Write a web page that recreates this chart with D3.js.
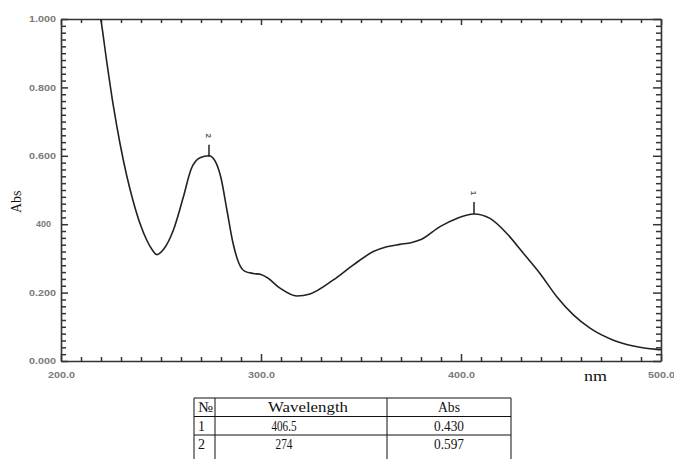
<!DOCTYPE html>
<html>
<head>
<meta charset="utf-8">
<script src="https://cdn.jsdelivr.net/npm/d3@7/dist/d3.min.js"></script>
<style>
html,body{margin:0;padding:0;background:#fff;}
svg{display:block;}
.serif{font-family:"Liberation Serif","Times New Roman",serif;}
</style>
</head>
<body>
<svg id="chart" width="674" height="459"></svg>
<script>
// ---- data ----
const wavelength = [218, 219.9, 222.9, 226.2, 229.5, 232.9, 236.2, 239.5, 242.9, 245.5, 247.9, 251.5, 256.2, 261.2, 265, 269.5, 274,
  277, 280, 283, 286, 289, 292, 296.2, 300, 303, 309.5, 317.9, 324.5, 336.2, 346.2, 356.2, 362.9, 369.5,
  375, 380, 389.5, 397.9, 406.5, 414.5, 422.9, 431.2, 439.5, 447.9, 456.2, 464.5, 476.2, 486.2, 497.9, 500];
const absorbance = [1.06, 1.000, 0.874, 0.745, 0.636, 0.541, 0.465, 0.402, 0.353, 0.326, 0.311, 0.328, 0.383, 0.480, 0.560, 0.594, 0.600,
  0.585, 0.535, 0.440, 0.345, 0.285, 0.262, 0.256, 0.253, 0.244, 0.213, 0.190, 0.196, 0.237, 0.281, 0.320, 0.334, 0.341,
  0.346, 0.355, 0.393, 0.417, 0.430, 0.417, 0.373, 0.315, 0.256, 0.188, 0.135, 0.096, 0.061, 0.044, 0.034, 0.033];
const xTicks = [200, 300, 400, 500];
const xTickLabels = ["200.0", "300.0", "400.0", "500.0"];
const yTicks = [0, 0.2, 0.4, 0.6, 0.8, 1.0];
const yTickLabels = ["0.000", "0.200", "400", "0.600", "0.800", "1.000"];
const peakNo = ["1", "2"];
const peakWl = [406.5, 274];
const peakAbs = [0.430, 0.597];
const tableHeader = ["№", "Wavelength", "Abs"];
const tableRows = [["1", "406.5", "0.430"], ["2", "274", "0.597"]];

// ---- layout ----
const svg = d3.select("#chart");
const L = 61, R = 661, T = 19, B = 361;
const x = d3.scaleLinear().domain([200, 500]).range([L, R]);
const y = d3.scaleLinear().domain([0, 1]).range([B, T]);
const axisColor = "#333";
const labelColor = "#7a7a7a";

svg.append("defs").append("clipPath").attr("id", "clip")
  .append("rect").attr("x", L).attr("y", T).attr("width", R - L).attr("height", B - T);

const xMinor = d3.range(200, 501, 10);
const yMinor = d3.range(0, 51).map(i => i * 0.02);
const isMajorX = v => Math.abs(v % 100) < 1e-6;
const isMajorY = v => Math.abs(Math.round(v * 1000) % 200) < 1e-6;

const gB = svg.append("g").attr("transform", `translate(0,${B})`)
  .call(d3.axisBottom(x).tickValues(xMinor).tickSizeInner(0).tickSizeOuter(0).tickFormat(""));
gB.selectAll(".tick line").attr("y2", d => isMajorX(d) ? -7 : -4);
const gT = svg.append("g").attr("transform", `translate(0,${T})`)
  .call(d3.axisTop(x).tickValues(xMinor).tickSizeInner(0).tickSizeOuter(0).tickFormat(""));
gT.selectAll(".tick line").attr("y2", d => isMajorX(d) ? 6 : 4);
const gL = svg.append("g").attr("transform", `translate(${L},0)`)
  .call(d3.axisLeft(y).tickValues(yMinor).tickSizeInner(0).tickSizeOuter(0).tickFormat(""));
gL.selectAll(".tick line").attr("x2", d => isMajorY(d) ? 7 : 5);
const gR = svg.append("g").attr("transform", `translate(${R},0)`)
  .call(d3.axisRight(y).tickValues(yMinor).tickSizeInner(0).tickSizeOuter(0).tickFormat(""));
gR.selectAll(".tick line").attr("x2", d => isMajorY(d) ? -8 : -5);

[gB, gT, gL, gR].forEach(g => {
  g.selectAll(".domain").attr("stroke", axisColor).attr("stroke-width", 1.6);
  g.selectAll(".tick line").attr("stroke", axisColor).attr("stroke-width", 1.5);
});

svg.append("g").selectAll("text").data(yTicks).join("text")
  .attr("x", (d, i) => yTickLabels[i] === "400" ? 51 : 56)
  .attr("y", d => y(d))
  .attr("dy", "0.35em")
  .attr("text-anchor", "end")
  .attr("font-family", "Liberation Sans, Arial, sans-serif")
  .attr("font-size", 9)
  .attr("font-weight", "bold")
  .attr("fill", labelColor)
  .attr("textLength", (d, i) => yTickLabels[i].length === 3 ? 15 : 27)
  .attr("lengthAdjust", "spacingAndGlyphs")
  .text((d, i) => yTickLabels[i]);

svg.append("g").selectAll("text").data(xTicks).join("text")
  .attr("x", d => x(d) - 13)
  .attr("y", 375)
  .attr("dy", "0.35em")
  .attr("font-family", "Liberation Sans, Arial, sans-serif")
  .attr("font-size", 9)
  .attr("font-weight", "bold")
  .attr("fill", labelColor)
  .attr("textLength", 27)
  .attr("lengthAdjust", "spacingAndGlyphs")
  .text((d, i) => xTickLabels[i]);

svg.append("text").attr("class", "serif")
  .attr("x", 584).attr("y", 381)
  .attr("font-size", 14)
  .attr("fill", "#111")
  .attr("textLength", 23).attr("lengthAdjust", "spacingAndGlyphs")
  .text("nm");
svg.append("text").attr("class", "serif")
  .attr("transform", "translate(21,213) rotate(-90)")
  .attr("font-size", 14)
  .attr("fill", "#111")
  .text("Abs");

const line = d3.line()
  .x((d, i) => x(wavelength[i]))
  .y((d, i) => y(absorbance[i]))
  .curve(d3.curveMonotoneX);
svg.append("path")
  .datum(absorbance)
  .attr("clip-path", "url(#clip)")
  .attr("fill", "none")
  .attr("stroke", "#222")
  .attr("stroke-width", 1.6)
  .attr("stroke-linejoin", "round")
  .attr("d", line);

const pk = svg.append("g");
peakWl.forEach((w, i) => {
  const px = x(w), py = y(peakAbs[i]);
  pk.append("line").attr("x1", px).attr("x2", px).attr("y1", py).attr("y2", py - 12)
    .attr("stroke", "#222").attr("stroke-width", 1.5);
  pk.append("text")
    .attr("transform", `translate(${px},${py - 21}) rotate(90)`)
    .attr("text-anchor", "middle").attr("dy", "0.35em")
    .attr("font-family", "Liberation Sans, Arial, sans-serif")
    .attr("font-size", 8).attr("font-weight", "bold").attr("fill", "#555")
    .text(peakNo[i]);
});

const colX = [194, 215, 387, 511];
const rowY = [398, 416.5, 435, 470];
const tb = svg.append("g").attr("stroke", "#111").attr("stroke-width", 1);
rowY.forEach(ry => tb.append("line").attr("x1", colX[0]).attr("x2", colX[3]).attr("y1", ry).attr("y2", ry));
colX.forEach(cx => tb.append("line").attr("x1", cx).attr("x2", cx).attr("y1", rowY[0]).attr("y2", rowY[3]));

const tt = svg.append("g").attr("class", "serif")
  .attr("font-size", 15).attr("fill", "#111");
const allRows = [tableHeader].concat(tableRows);
allRows.forEach((r, ri) => {
  const cy = rowY[ri] + 14;
  tt.append("text").attr("x", 198).attr("y", cy)
    .attr("textLength", ri === 0 ? 15 : 7).attr("lengthAdjust", "spacingAndGlyphs").text(r[0]);
  tt.append("text").attr("x", ri === 0 ? 308 : 284).attr("y", cy).attr("text-anchor", "middle")
    .attr("textLength", ri === 0 ? 80 : (r[1].length === 3 ? 17 : 25)).attr("lengthAdjust", "spacingAndGlyphs")
    .text(r[1]);
  tt.append("text").attr("x", 449).attr("y", cy).attr("text-anchor", "middle")
    .attr("textLength", ri === 0 ? 22 : 30).attr("lengthAdjust", "spacingAndGlyphs")
    .text(r[2]);
});
</script>
</body>
</html>
